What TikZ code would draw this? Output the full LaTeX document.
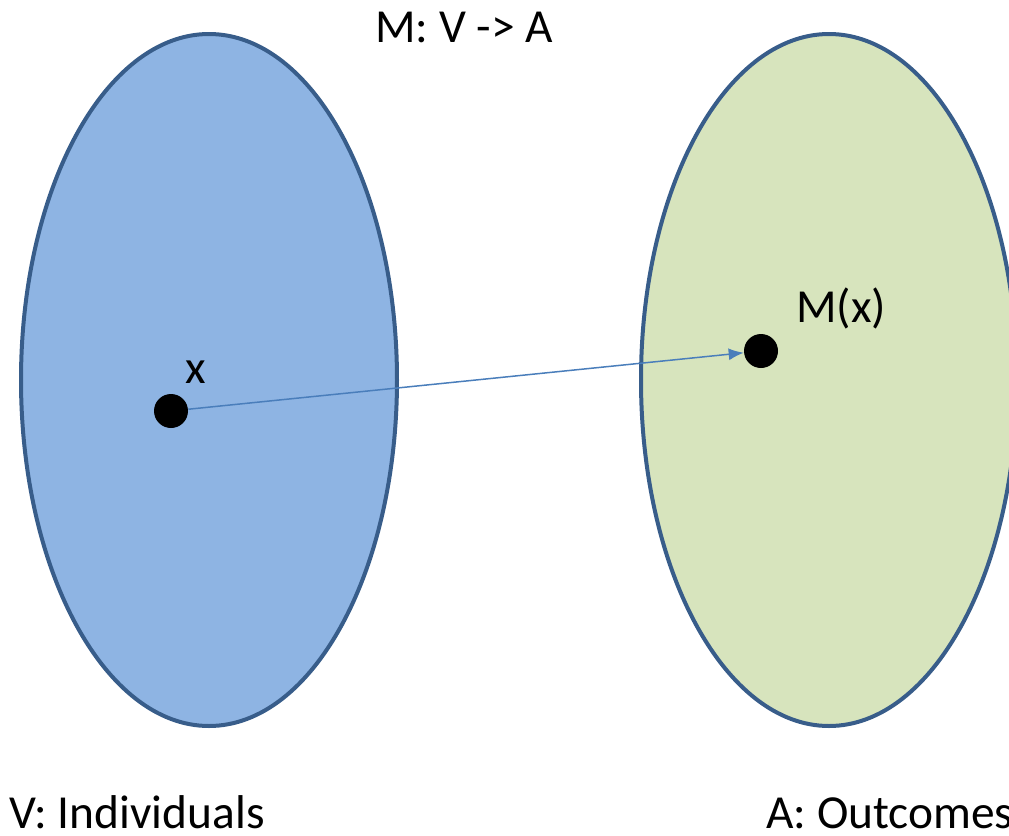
\documentclass[tikz,border=0pt]{standalone}
\usepackage{fontspec}
\setmainfont{Carlito}
\usetikzlibrary{shapes.geometric,arrows.meta}
\definecolor{setborder}{RGB}{56,93,138}
\definecolor{setblue}{RGB}{142,180,227}
\definecolor{setgreen}{RGB}{215,228,189}
\definecolor{maparrow}{RGB}{74,126,187}
\begin{document}
\begin{tikzpicture}[x=0.5pt, y=-0.5pt,
    setshape/.style={ellipse, draw=setborder, line width=2pt,
      minimum width=188pt, minimum height=346pt, inner sep=0pt},
    elem/.style={circle, fill=black, minimum size=17pt, inner sep=0pt},
    lbl/.style={anchor=base west, inner sep=0pt,
      font=\fontsize{23.7}{28}\selectfont}]
  % 1. Page frame, the right set runs past the edge
  \useasboundingbox (0,0) rectangle (1009,836);
  \clip (0,0) rectangle (1009,836);
  \fill[white] (0,0) rectangle (1009,836);

  % 2. The two sets
  \node[setshape, fill=setblue] (V) at (209,380) {};
  \node[setshape, fill=setgreen] (A) at (829,380) {};

  % 3. Element x and its image
  \node[elem] (x) at (171,411) {};
  \node[elem] (Mx) at (761,351) {};
  \draw[maparrow, line width=0.75pt, -{Latex[length=7.5pt,width=6pt]}] (x) -- (Mx);

  % 4. Labels
  \node[lbl] (title) at (375,42) {M: V -> A};
  \node[lbl] (xlbl) at (185,383) {x};
  \node[lbl] (Mxlbl) at (796,322) {M(x)};
  \node[lbl] (Vlbl) at (9,828) {V: Individuals};
  \node[lbl] (Albl) at (766,828) {A: Outcomes};
\end{tikzpicture}
\end{document}
